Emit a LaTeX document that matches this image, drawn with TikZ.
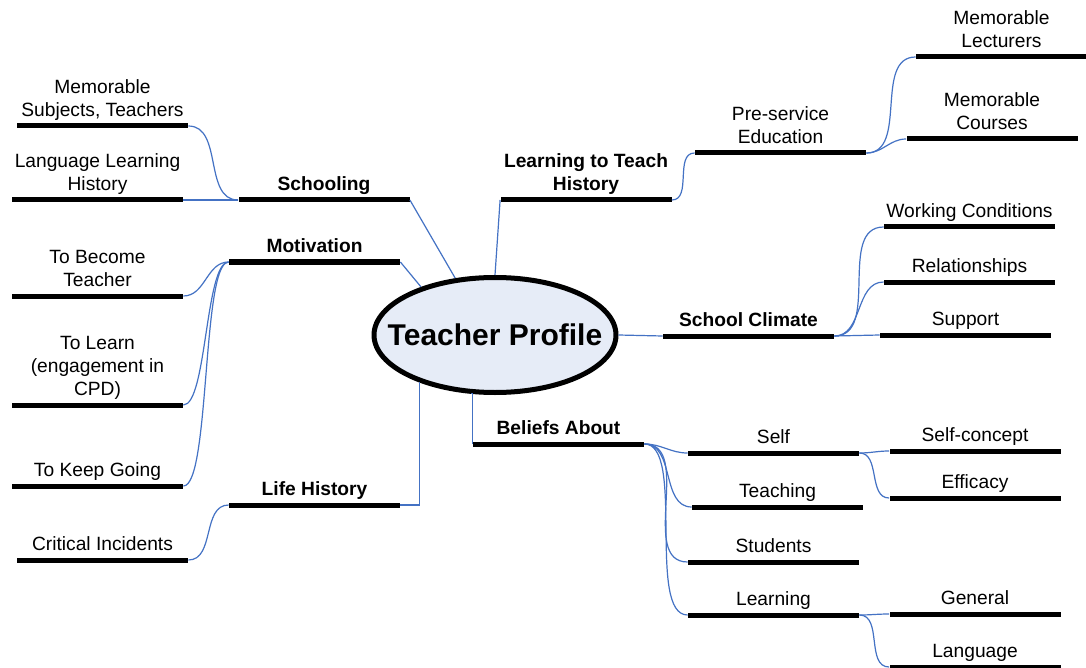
\documentclass[tikz,border=0pt]{standalone}
\usepackage{fontspec}
\setmainfont{Liberation Sans}
\usetikzlibrary{shapes.geometric}
\definecolor{linkblue}{RGB}{68,114,196}
\definecolor{corefill}{RGB}{230,236,247}

\begin{document}
\begin{tikzpicture}[x=0.5pt, y=-0.5pt,
    bar/.style={fill=black, inner sep=0pt, minimum width=85.5pt, minimum height=2.5pt},
    lbl/.style={inner sep=0pt, text depth=3.25pt, align=center, font=\fontsize{9.6}{11.5}\selectfont},
    headlbl/.style={lbl, font=\fontsize{9.6}{11.5}\selectfont\bfseries},
    twig/.style={draw=linkblue, line width=0.6pt}]
    \fill[white] (0,0) rectangle (1086,668);
    \useasboundingbox (0,0) rectangle (1086,668);

    \node[ellipse, draw, line width=2.5pt, fill=corefill, minimum width=121pt, minimum height=57.5pt, inner sep=0pt,
        label={[font=\fontsize{15}{18}\selectfont\bfseries]center:Teacher Profile}] (core) at (495,335) {};

    \node[bar, label={[headlbl]above:Schooling}] (schooling) at (324,200) {};
    \node[bar, label={[lbl]above:{Memorable\\Subjects, Teachers}}] (subjects) at (102.5,126) {};
    \node[bar, label={[lbl]above:{Language Learning\\History}}] (langhist) at (97.5,200) {};

    \node[bar, label={[headlbl]above:Motivation}] (motivation) at (314.5,262) {};
    \node[bar, label={[lbl]above:{To Become\\Teacher}}] (become) at (97.5,296) {};
    \node[bar, label={[lbl]above:{To Learn\\(engagement in\\CPD)}}] (learn) at (97.5,405) {};
    \node[bar, label={[lbl]above:To Keep Going}] (keep) at (97.5,486) {};

    \node[bar, label={[headlbl]above:Life History}] (lifehist) at (314.5,505) {};
    \node[bar, label={[lbl]above:Critical Incidents}] (critical) at (102.5,560) {};

    \node[bar, label={[headlbl]above:{Learning to Teach\\History}}] (learnteach) at (586,200) {};
    \node[bar, label={[lbl]above:{Pre-service\\Education}}] (preservice) at (780.5,153) {};
    \node[bar, label={[lbl]above:{Memorable\\Lecturers}}] (lecturers) at (1001.5,57) {};
    \node[bar, label={[lbl]above:{Memorable\\Courses}}] (courses) at (992,139) {};

    \node[bar, label={[headlbl]above:School Climate}] (climate) at (748.5,336) {};
    \node[bar, label={[lbl]above:Working Conditions}] (working) at (969.5,227) {};
    \node[bar, label={[lbl]above:Relationships}] (relations) at (969.5,282) {};
    \node[bar, label={[lbl]above:Support}] (support) at (965.5,335) {};

    \node[bar, label={[headlbl]above:Beliefs About}] (beliefs) at (558.5,444) {};
    \node[bar, label={[lbl]above:Self}] (self) at (773.5,453) {};
    \node[bar, label={[lbl]above:Teaching}] (teaching) at (777.5,507) {};
    \node[bar, label={[lbl]above:Students}] (students) at (773.5,562) {};
    \node[bar, label={[lbl]above:Learning}] (learning) at (773.5,615) {};
    \node[bar, label={[lbl]above:Self-concept}] (selfconcept) at (975,451) {};
    \node[bar, label={[lbl]above:Efficacy}] (efficacy) at (975,498) {};
    \node[bar, label={[lbl]above:General}] (general) at (975,614) {};
    \node[bar, label={[lbl]above:Language}] (language) at (975,667) {};

    \draw[twig] (schooling.east) -- (core.125);
    \draw[twig] (motivation.east) -- (core.147);
    \draw[twig] (learnteach.west) -- (core.north);
    \draw[twig] (lifehist.east) -| (core.212);
    \draw[twig] (beliefs.west) |- (core.248);
    \draw[twig] (core.east) -- (climate.west);

    \draw[twig] (schooling.west) to[out=180,in=0] (subjects.east);
    \draw[twig] (schooling.west) -- (langhist.east);
    \draw[twig] (motivation.west) to[out=180,in=0] (become.east);
    \draw[twig] (motivation.west) to[out=180,in=0,looseness=0.4] (learn.east);
    \draw[twig] (motivation.west) to[out=180,in=0,looseness=0.3] (keep.east);
    \draw[twig] (lifehist.west) to[out=180,in=0] (critical.east);

    \draw[twig] (learnteach.east) to[out=0,in=180] (preservice.west);
    \draw[twig] (preservice.east) to[out=0,in=180] (lecturers.west);
    \draw[twig] (preservice.east) to[out=0,in=180] (courses.west);
    \draw[twig] (climate.east) to[out=0,in=180] (working.west);
    \draw[twig] (climate.east) to[out=0,in=180] (relations.west);
    \draw[twig] (climate.east) -- (support.west);
    \draw[twig] (beliefs.east) to[out=0,in=180] (self.west);
    \draw[twig] (beliefs.east) to[out=0,in=180] (teaching.west);
    \draw[twig] (beliefs.east) to[out=0,in=180] (students.west);
    \draw[twig] (beliefs.east) to[out=0,in=180,looseness=0.6] (learning.west);
    \draw[twig] (self.east) to[out=0,in=180] (selfconcept.west);
    \draw[twig] (self.east) to[out=0,in=180] (efficacy.west);
    \draw[twig] (learning.east) to[out=0,in=180] (general.west);
    \draw[twig] (learning.east) to[out=0,in=180] (language.west);
\end{tikzpicture}
\end{document}
